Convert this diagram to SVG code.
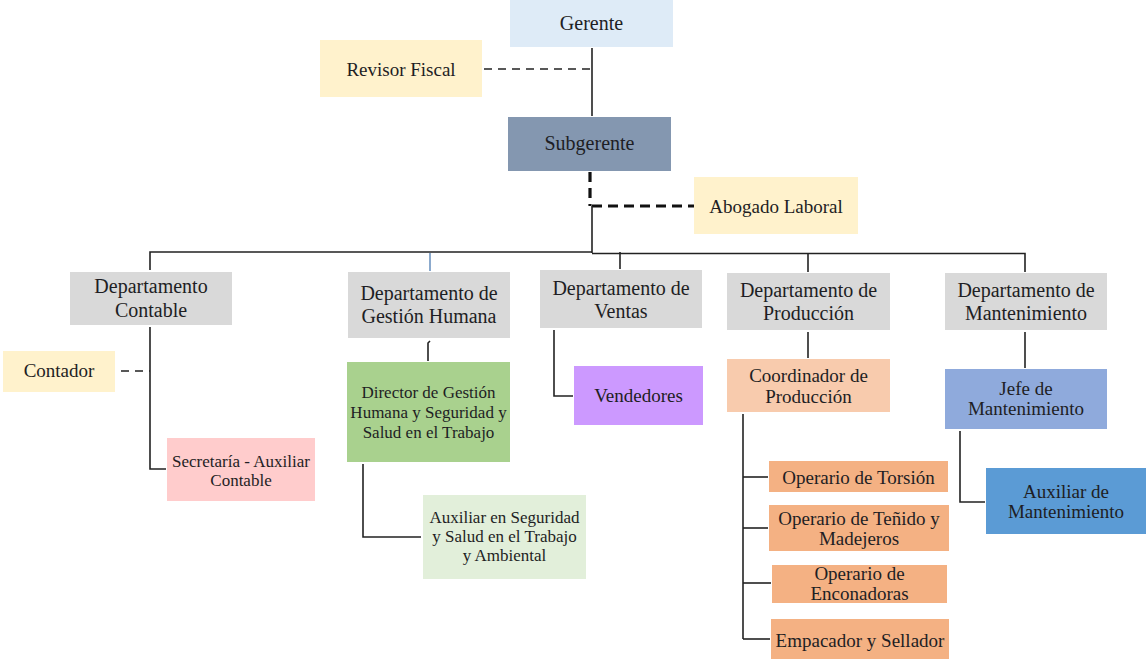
<svg xmlns="http://www.w3.org/2000/svg" width="1146" height="659" viewBox="0 0 1146 659" font-family="'Liberation Serif','DejaVu Serif',serif">
<style>
text{font-family:'Liberation Serif','DejaVu Serif',serif;fill:#1e1e24;text-anchor:middle}
.f20{font-size:20px}.f19{font-size:19px}.f17{font-size:17px}
.ln{fill:none;stroke:#222;stroke-width:1.6}
.dash{fill:none;stroke:#222;stroke-width:1.6;stroke-dasharray:8,6}
.tdash{fill:none;stroke:#111;stroke-width:3.2;stroke-dasharray:10,6}
.dept{fill:#d9d9d9}
.op{fill:#f4b183}
</style>
<rect width="1146" height="659" fill="#fff"/>
<g id="connectors">
<line class="ln" x1="592" y1="48" x2="592" y2="116"/>
<line class="dash" x1="484" y1="69" x2="592" y2="69"/>
<line class="tdash" x1="590" y1="172" x2="590" y2="206"/>
<line class="tdash" x1="592" y1="206" x2="694" y2="206"/>
<line class="ln" x1="592" y1="206" x2="592" y2="253"/>
<polyline class="ln" points="150,270 150,252 592,252"/>
<polyline class="ln" points="592,253.5 1025,253.5 1025,272"/>
<line class="ln" x1="620" y1="252" x2="620" y2="269"/>
<line class="ln" x1="808" y1="253" x2="808" y2="272"/>
<line x1="430" y1="253" x2="430" y2="271" stroke="#5b86b8" stroke-width="1.4"/>
<polyline class="ln" points="150,327 150,469 166,469"/>
<line class="dash" x1="121" y1="371" x2="150" y2="371"/>
<polyline class="ln" points="430,341 428,343 428,361"/>
<polyline class="ln" points="363,464 363,537 421,537"/>
<polyline class="ln" points="554,330 554,396 573,396"/>
<line class="ln" x1="808" y1="332" x2="808" y2="358"/>
<line class="ln" x1="743" y1="414" x2="743" y2="639"/>
<line class="ln" x1="743" y1="477" x2="768" y2="477"/>
<line class="ln" x1="743" y1="528" x2="768" y2="528"/>
<line class="ln" x1="743" y1="583" x2="771" y2="583"/>
<line class="ln" x1="743" y1="639" x2="770" y2="639"/>
<line class="ln" x1="1025" y1="332" x2="1025" y2="368"/>
<polyline class="ln" points="960,431 960,502 985,502"/>
</g>
<g id="gerente"><rect x="510" y="0" width="163" height="47" fill="#deebf7"/><text class="f20" x="591.5" y="30">Gerente</text></g>
<g id="revisor-fiscal"><rect x="320" y="40" width="162" height="57" fill="#fff2cc"/><text class="f19" x="401" y="76">Revisor Fiscal</text></g>
<g id="subgerente"><rect x="508" y="117" width="163" height="54" fill="#8497b0"/><text class="f20" x="589.5" y="150">Subgerente</text></g>
<g id="abogado-laboral"><rect x="694" y="177" width="164" height="57" fill="#fff2cc"/><text class="f19" x="776" y="213">Abogado Laboral</text></g>
<g id="dep-contable"><rect class="dept" x="70" y="272" width="162" height="53"/><text class="f20" x="151" y="293">Departamento</text><text class="f20" x="151" y="317">Contable</text></g>
<g id="dep-gestion-humana"><rect class="dept" x="348" y="272" width="162" height="66"/><text class="f20" x="429" y="300">Departamento de</text><text class="f20" x="429" y="323">Gestión Humana</text></g>
<g id="dep-ventas"><rect class="dept" x="540" y="270" width="162" height="58"/><text class="f20" x="621" y="295">Departamento de</text><text class="f20" x="621" y="318">Ventas</text></g>
<g id="dep-produccion"><rect class="dept" x="727" y="273" width="163" height="57"/><text class="f20" x="808.5" y="297">Departamento de</text><text class="f20" x="808.5" y="320">Producción</text></g>
<g id="dep-mantenimiento"><rect class="dept" x="945" y="273" width="162" height="57"/><text class="f20" x="1026" y="297">Departamento de</text><text class="f20" x="1026" y="320">Mantenimiento</text></g>
<g id="contador"><rect x="3" y="351" width="112" height="41" fill="#fff2cc"/><text class="f19" x="59" y="377">Contador</text></g>
<g id="secretaria"><rect x="167" y="438" width="148" height="63" fill="#ffcccc"/><text class="f17" x="241" y="467">Secretaría - Auxiliar</text><text class="f17" x="241" y="486">Contable</text></g>
<g id="director-gh"><rect x="347" y="362" width="163" height="100" fill="#a9d18e"/><text class="f17" x="428.5" y="398">Director de Gestión</text><text class="f17" x="428.5" y="418">Humana y Seguridad y</text><text class="f17" x="428.5" y="438">Salud en el Trabajo</text></g>
<g id="auxiliar-sst"><rect x="423" y="495" width="163" height="84" fill="#e2efda"/><text class="f17" x="504.5" y="523">Auxiliar en Seguridad</text><text class="f17" x="504.5" y="542">y Salud en el Trabajo</text><text class="f17" x="504.5" y="561">y Ambiental</text></g>
<g id="vendedores"><rect x="574" y="366" width="129" height="59" fill="#cc99ff"/><text class="f19" x="638.5" y="402">Vendedores</text></g>
<g id="coordinador-produccion"><rect x="727" y="359" width="163" height="53" fill="#f8cbad"/><text class="f19" x="808.5" y="382">Coordinador de</text><text class="f19" x="808.5" y="403">Producción</text></g>
<g id="operario-torsion"><rect class="op" x="769" y="461" width="179" height="31"/><text class="f19" x="858.5" y="484">Operario de Torsión</text></g>
<g id="operario-tenido"><rect class="op" x="769" y="505" width="180" height="46"/><text class="f19" x="859" y="525">Operario de Teñido y</text><text class="f19" x="859" y="545">Madejeros</text></g>
<g id="operario-enconadoras"><rect class="op" x="772" y="565" width="175" height="38"/><text class="f19" x="859.5" y="580">Operario de</text><text class="f19" x="859.5" y="600">Enconadoras</text></g>
<g id="empacador"><rect class="op" x="771" y="619" width="178" height="42"/><text class="f19" x="860" y="647">Empacador y Sellador</text></g>
<g id="jefe-mantenimiento"><rect x="945" y="369" width="162" height="60" fill="#8faadc"/><text class="f19" x="1026" y="395">Jefe de</text><text class="f19" x="1026" y="415">Mantenimiento</text></g>
<g id="auxiliar-mantenimiento"><rect x="986" y="468" width="160" height="66" fill="#5b9bd5"/><text class="f19" x="1066" y="498">Auxiliar de</text><text class="f19" x="1066" y="518">Mantenimiento</text></g>
</svg>
